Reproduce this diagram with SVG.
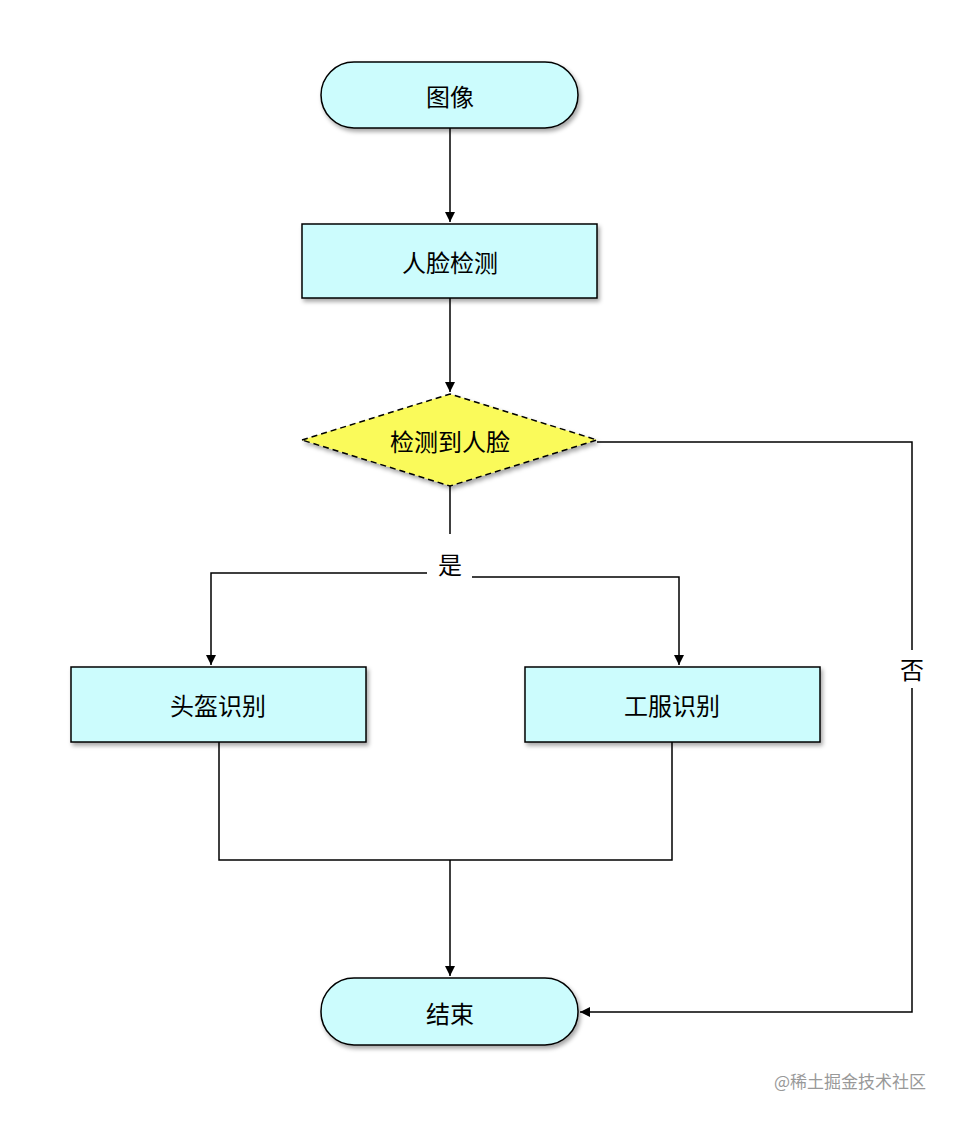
<svg xmlns="http://www.w3.org/2000/svg" width="956" height="1128" viewBox="0 0 956 1128">
<style>
.n{fill:#ccfcfd;stroke:#000;stroke-width:1.5;filter:url(#sh)}
.t{font-family:"Noto Sans CJK SC","Liberation Sans",sans-serif;font-size:24px;text-anchor:middle;dominant-baseline:central;fill:#000}
.c{fill:none;stroke:#000;stroke-width:1.5}
</style>
<defs>
<filter id="sh" x="-10%" y="-10%" width="130%" height="140%"><feDropShadow dx="2" dy="3" stdDeviation="2" flood-color="#000" flood-opacity="0.35"/></filter>
<marker id="a" viewBox="0 0 10 10" refX="10" refY="5" markerWidth="10" markerHeight="10" markerUnits="userSpaceOnUse" orient="auto"><path d="M0,0L10,5L0,10z" fill="#000"/></marker>
</defs>
<rect width="956" height="1128" fill="#fff"/>
<g id="connectors">
<path class="c" d="M450,128V222" marker-end="url(#a)"/>
<path class="c" d="M450,298V392" marker-end="url(#a)"/>
<path class="c" d="M450,486V534"/>
<path class="c" d="M427,573H211V665" marker-end="url(#a)"/>
<path class="c" d="M472,577H679V665" marker-end="url(#a)"/>
<path class="c" d="M219,742V860H672V742"/>
<path class="c" d="M450,860V976" marker-end="url(#a)"/>
<path class="c" d="M597,442H912V650M912,688V1012H580" marker-end="url(#a)"/>
</g>
<g id="start"><rect class="n" x="321" y="62" width="257" height="66" rx="33"/><text class="t" x="450" y="95">图像</text></g>
<g id="face"><rect class="n" x="302" y="224" width="295" height="74"/><text class="t" x="450" y="261">人脸检测</text></g>
<g id="dec"><path d="M302,440L450,394L597,440L450,486Z" fill="#fafa5a" stroke="#000" stroke-width="1.5" stroke-dasharray="6,4" filter="url(#sh)"/><text class="t" x="450" y="440">检测到人脸</text></g>
<text class="t" x="450" y="563">是</text>
<text class="t" x="912" y="668">否</text>
<g id="helmet"><rect class="n" x="71" y="667" width="295" height="75"/><text class="t" x="218" y="704">头盔识别</text></g>
<g id="uniform"><rect class="n" x="525" y="667" width="295" height="75"/><text class="t" x="672" y="704">工服识别</text></g>
<g id="end"><rect class="n" x="321" y="978" width="257" height="67" rx="33"/><text class="t" x="450" y="1012">结束</text></g>
<text x="926" y="1088" font-family="Noto Sans CJK SC,sans-serif" font-size="17" fill="#999" text-anchor="end">@稀土掘金技术社区</text>
</svg>
